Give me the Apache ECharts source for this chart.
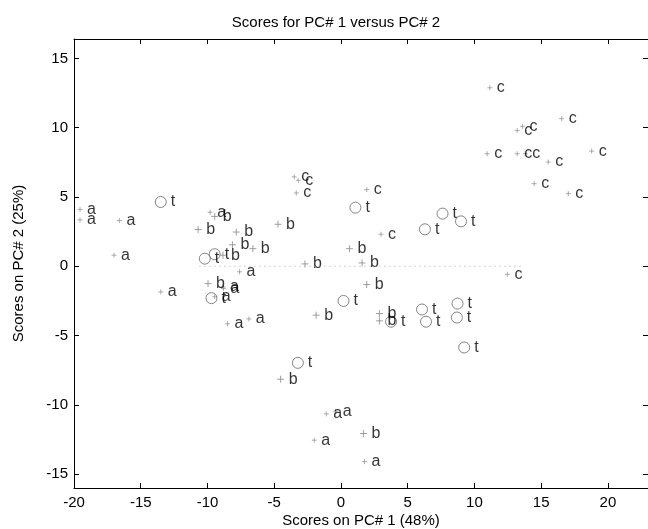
<!DOCTYPE html>
<html>
<head>
    <title>Scores for PC# 1 versus PC# 2</title>
    <script src="https://cdn.jsdelivr.net/npm/echarts@6/dist/echarts.min.js"></script>
</head>
<body style="margin:0;">
<div id="chart" style="width: 648px; height: 529px;"></div>
<script>
    // scores, one pair of arrays per class
    var aX = [-19.55, -19.55, -16.6, -17.0, -13.5, -9.8, -7.6, -8.84, -8.8, -9.46, -8.5, -6.9, -1.1, -0.4, -2.0, 1.76];
    var aY = [4.1, 3.35, 3.3, 0.8, -1.85, 3.9, -0.4, -1.5, -1.6, -2.2, -4.15, -3.8, -10.65, -10.5, -12.55, -14.1];

    var bX = [-10.7, -9.46, -7.84, -8.13, -6.6, -4.72, -8.84, -2.7, 0.64, 1.58, 1.93, -9.96, -1.86, 2.88, 2.88, -4.52, 1.68];
    var bY = [2.65, 3.6, 2.47, 1.55, 1.27, 3.03, 0.8, 0.17, 1.27, 0.24, -1.32, -1.25, -3.53, -3.41, -3.94, -8.15, -12.07];

    var cX = [-3.5, -3.2, -3.35, 1.93, 3.0, 12.47, 10.95, 13.2, 13.8, 11.15, 13.2, 13.6, 16.53, 15.53, 18.78, 14.47, 17.03];
    var cY = [6.45, 6.2, 5.29, 5.53, 2.31, -0.58, 8.12, 8.12, 8.12, 12.88, 9.8, 10.1, 10.65, 7.52, 8.31, 5.96, 5.24];

    var tX = [-13.5, -10.2, -9.46, -9.7, 1.08, 6.29, 7.61, 8.99, 0.19, 3.75, 6.07, 6.37, 8.73, 8.68, 9.23, -3.23];
    var tY = [4.64, 0.55, 0.87, -2.3, 4.23, 2.67, 3.8, 3.24, -2.5, -4.0, -3.12, -4.0, -2.69, -3.7, -5.86, -6.97];

    // dotted reference line along y = 0
    var zeroLineX = [-10.6, 13.7];
    var zeroLineY = [0, 0];

    var xTicks = [-20, -15, -10, -5, 0, 5, 10, 15, 20];
    var yTicks = [-15, -10, -5, 0, 5, 10, 15];

    function pairs(xs, ys) {
        return xs.map(function (x, i) { return [x, ys[i]]; });
    }

    var font = 'Liberation Sans, Arial, sans-serif';
    var plusPath = 'path://M0,5H10M5,0V10';

    function labelled(name, xs, ys, symbol, size, color) {
        return {
            type: 'scatter',
            name: name,
            data: pairs(xs, ys),
            symbol: symbol,
            symbolSize: size,
            itemStyle: { color: 'none', borderColor: color, borderWidth: 1 },
            label: {
                show: true,
                position: 'right',
                distance: 2,
                formatter: name,
                color: '#000',
                fontSize: 16,
                fontFamily: font
            },
            labelLayout: { hideOverlap: false },
            emphasis: { disabled: true },
            silent: true
        };
    }

    var chart = echarts.init(document.getElementById('chart'));

    var tickLabel = { color: '#000', fontSize: 15, fontFamily: font };

    var option = {
        animation: false,
        backgroundColor: '#fff',
        title: {
            text: 'Scores for PC# 1 versus PC# 2',
            left: 331,
            textAlign: 'center',
            top: 5,
            textStyle: { color: '#000', fontSize: 15, fontWeight: 'normal', fontFamily: font }
        },
        grid: { left: 74, right: 0, top: 39, bottom: 41, containLabel: false, outerBoundsMode: 'none' },
        xAxis: [{
            type: 'value',
            min: -20,
            max: 23,
            interval: 5,
            name: 'Scores on PC# 1 (48%)',
            nameLocation: 'middle',
            nameGap: 20,
            nameMoveOverlap: false,
            nameTextStyle: { color: '#000', fontSize: 15, fontFamily: font },
            axisLine: { show: true, onZero: false, lineStyle: { color: '#000' } },
            axisTick: { inside: true, length: 5, customValues: xTicks, lineStyle: { color: '#000' } },
            axisLabel: Object.assign({ margin: 2, customValues: xTicks }, tickLabel),
            splitLine: { show: false }
        }, {
            type: 'value',
            position: 'top',
            min: -20,
            max: 23,
            interval: 5,
            axisLine: { show: true, onZero: false, lineStyle: { color: '#000' } },
            axisTick: { inside: true, length: 5, customValues: xTicks, lineStyle: { color: '#000' } },
            axisLabel: { show: false },
            splitLine: { show: false }
        }],
        yAxis: [{
            type: 'value',
            min: -16,
            max: 16.4,
            name: 'Scores on PC# 2 (25%)',
            nameLocation: 'middle',
            nameGap: 42,
            nameMoveOverlap: false,
            nameTextStyle: { color: '#000', fontSize: 15, fontFamily: font },
            axisLine: { show: true, onZero: false, lineStyle: { color: '#000' } },
            axisTick: { inside: true, length: 5, customValues: yTicks, lineStyle: { color: '#000' } },
            axisLabel: Object.assign({ margin: 6, customValues: yTicks }, tickLabel),
            splitLine: { show: false }
        }, {
            type: 'value',
            position: 'right',
            min: -16,
            max: 16.4,
            axisLine: { show: true, onZero: false, lineStyle: { color: '#000' } },
            axisTick: { inside: true, length: 5, customValues: yTicks, lineStyle: { color: '#000' } },
            axisLabel: { show: false },
            splitLine: { show: false }
        }],
        series: [
            {
                type: 'line',
                data: pairs(zeroLineX, zeroLineY),
                symbol: 'none',
                lineStyle: { color: '#aaa', width: 1, type: [1, 4] },
                silent: true
            },
            labelled('a', aX, aY, plusPath, 5, '#999'),
            labelled('b', bX, bY, plusPath, 7, '#888'),
            labelled('c', cX, cY, plusPath, 5, '#999'),
            labelled('t', tX, tY, 'circle', 11, '#666')
        ]
    };

    chart.setOption(option);
</script>
</body>
</html>
